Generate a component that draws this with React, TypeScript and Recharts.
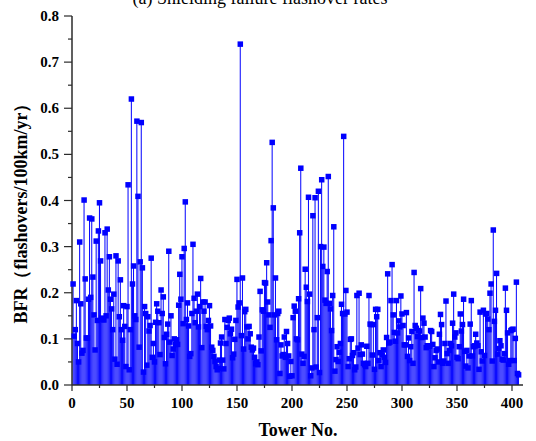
import React from 'react';
import { ComposedChart, Bar, Scatter, XAxis, YAxis, Label } from 'recharts';

// BFR per tower (towers 1..406)
const bfrValues = [
  0.219, 0.106, 0.12, 0.183, 0.09, 0.05, 0.31, 0.176, 0.069, 0.075,
  0.401, 0.23, 0.102, 0.102, 0.186, 0.362, 0.19, 0.36, 0.234, 0.152,
  0.076, 0.312, 0.14, 0.334, 0.395, 0.269, 0.145, 0.142, 0.141, 0.33,
  0.15, 0.338, 0.206, 0.278, 0.186, 0.165, 0.12, 0.197, 0.056, 0.28,
  0.045, 0.269, 0.148, 0.228, 0.12, 0.097, 0.172, 0.127, 0.04, 0.17,
  0.434, 0.033, 0.12, 0.62, 0.219, 0.258, 0.15, 0.142, 0.572, 0.409,
  0.082, 0.267, 0.569, 0.254, 0.028, 0.17, 0.155, 0.043, 0.148, 0.117,
  0.129, 0.275, 0.06, 0.09, 0.05, 0.136, 0.176, 0.16, 0.135, 0.066,
  0.206, 0.155, 0.191, 0.103, 0.046, 0.11, 0.132, 0.29, 0.093, 0.15,
  0.064, 0.078, 0.1, 0.088, 0.098, 0.088, 0.173, 0.24, 0.186, 0.278,
  0.133, 0.296, 0.397, 0.142, 0.178, 0.128, 0.062, 0.068, 0.155, 0.305,
  0.188, 0.135, 0.16, 0.197, 0.126, 0.17, 0.231, 0.081, 0.18, 0.16,
  0.18, 0.127, 0.12, 0.14, 0.172, 0.128, 0.082, 0.075, 0.062, 0.051,
  0.04, 0.033, 0.036, 0.054, 0.091, 0.104, 0.054, 0.035, 0.142, 0.09,
  0.125, 0.14, 0.145, 0.111, 0.121, 0.059, 0.067, 0.099, 0.14, 0.229,
  0.169, 0.178, 0.739, 0.107, 0.232, 0.078, 0.159, 0.164, 0.126, 0.1,
  0.127, 0.111, 0.082, 0.076, 0.08, 0.06, 0.046, 0.05, 0.044, 0.104,
  0.203, 0.074, 0.163, 0.16, 0.222, 0.221, 0.265, 0.18, 0.152, 0.125,
  0.313, 0.526, 0.384, 0.152, 0.232, 0.098, 0.155, 0.16, 0.025, 0.087,
  0.063, 0.066, 0.104, 0.06, 0.116, 0.09, 0.063, 0.019, 0.051, 0.02,
  0.146, 0.171, 0.16, 0.1, 0.098, 0.187, 0.33, 0.47, 0.067, 0.047,
  0.062, 0.251, 0.212, 0.181, 0.407, 0.197, 0.02, 0.037, 0.367, 0.12,
  0.406, 0.039, 0.146, 0.42, 0.027, 0.3, 0.445, 0.257, 0.299, 0.184,
  0.177, 0.246, 0.452, 0.177, 0.165, 0.118, 0.194, 0.343, 0.03, 0.055,
  0.083, 0.051, 0.071, 0.09, 0.175, 0.155, 0.539, 0.154, 0.205, 0.158,
  0.04, 0.057, 0.099, 0.1, 0.064, 0.07, 0.033, 0.039, 0.194, 0.08,
  0.199, 0.066, 0.087, 0.067, 0.047, 0.044, 0.04, 0.084, 0.047, 0.194,
  0.132, 0.131, 0.065, 0.131, 0.034, 0.164, 0.148, 0.164, 0.053, 0.07,
  0.04, 0.065, 0.076, 0.06, 0.049, 0.103, 0.241, 0.091, 0.093, 0.183,
  0.261, 0.152, 0.114, 0.095, 0.183, 0.113, 0.139, 0.126, 0.193, 0.154,
  0.129, 0.087, 0.087, 0.157, 0.062, 0.102, 0.053, 0.083, 0.116, 0.047,
  0.244, 0.129, 0.123, 0.105, 0.118, 0.117, 0.209, 0.103, 0.145, 0.134,
  0.104, 0.081, 0.085, 0.085, 0.084, 0.118, 0.116, 0.088, 0.04, 0.059,
  0.075, 0.078, 0.05, 0.11, 0.153, 0.131, 0.047, 0.052, 0.09, 0.182,
  0.068, 0.047, 0.075, 0.09, 0.085, 0.134, 0.197, 0.104, 0.113, 0.06,
  0.057, 0.083, 0.154, 0.117, 0.131, 0.186, 0.073, 0.041, 0.075, 0.037,
  0.063, 0.132, 0.183, 0.063, 0.083, 0.085, 0.11, 0.091, 0.085, 0.034,
  0.158, 0.072, 0.052, 0.162, 0.064, 0.154, 0.155, 0.143, 0.12, 0.199,
  0.219, 0.052, 0.336, 0.138, 0.162, 0.242, 0.067, 0.079, 0.096, 0.085,
  0.056, 0.054, 0.068, 0.21, 0.162, 0.113, 0.045, 0.053, 0.118, 0.12,
  0.121, 0.053, 0.101, 0.223, 0.025, 0.022,
];

const xTicks = [0, 25, 50, 75, 100, 125, 150, 175, 200, 225, 250, 275, 300, 325, 350, 375, 400];
const yTicks = [0, 0.05, 0.1, 0.15, 0.2, 0.25, 0.3, 0.35, 0.4, 0.45, 0.5, 0.55, 0.6, 0.65, 0.7, 0.75, 0.8];

const title = '(a) Shielding failure flashover rates';
const xTitle = 'Tower No.';
const yTitle = 'BFR（flashovers/100km/yr）';

const data = bfrValues.map((v, i) => ({ tower: i + 1, bfr: v }));

const FONT = "'Times New Roman', 'Liberation Serif', serif";
const AXIS = '#2b2b2b';
const BLUE = '#0000ff';

const XTick = ({ x, y, payload }: any) => {
  const major = payload.value % 50 === 0;
  return (
    <g>
      <line x1={x} x2={x} y1={y} y2={y + (major ? 6 : 3)} stroke={AXIS} strokeWidth={1.2} />
      {major && (
        <text x={x} y={y + 23} textAnchor="middle" fontFamily={FONT} fontWeight="bold" fontSize={15} fill="#000">
          {payload.value}
        </text>
      )}
    </g>
  );
};

const YTick = ({ x, y, payload }: any) => {
  const v = payload.value;
  const major = Math.abs(v * 10 - Math.round(v * 10)) < 1e-6;
  return (
    <g>
      <line x1={x} x2={x - (major ? 8 : 4)} y1={y} y2={y} stroke={AXIS} strokeWidth={1.2} />
      {major && (
        <text x={x - 13} y={y + 5} textAnchor="end" fontFamily={FONT} fontWeight="bold" fontSize={15} fill="#000">
          {v.toFixed(1)}
        </text>
      )}
    </g>
  );
};

const Marker = (props: any) => {
  const { cx, cy } = props;
  if (cx == null || cy == null) return null;
  return <rect x={cx - 2.75} y={cy - 2.75} width={5.5} height={5.5} fill={BLUE} />;
};

export default function App() {
  return (
    <div style={{ position: 'absolute', left: 0, top: 0, width: 536, height: 441, background: '#fff' }}>
      <ComposedChart width={536} height={441} data={data} margin={{ top: 16, right: 13, bottom: 0, left: 0 }}>
        <XAxis
          dataKey="tower"
          type="number"
          domain={[0, 410]}
          ticks={xTicks}
          interval={0}
          tick={<XTick />}
          tickLine={false}
          tickSize={0}
          tickMargin={0}
          axisLine={{ stroke: AXIS, strokeWidth: 1.5 }}
          height={56}
        >
          <Label
            content={() => (
              <g>
                <text x={298} y={436} textAnchor="middle" fontFamily={FONT} fontWeight="bold" fontSize={18} fill="#000">
                  {xTitle}
                </text>
                <text x={260} y={4} textAnchor="middle" fontFamily={FONT} fontSize={18} fill="#000">
                  {title}
                </text>
              </g>
            )}
          />
        </XAxis>
        <YAxis
          type="number"
          domain={[0, 0.8]}
          ticks={yTicks}
          interval={0}
          tick={<YTick />}
          tickLine={false}
          tickSize={0}
          tickMargin={0}
          axisLine={{ stroke: AXIS, strokeWidth: 1.5 }}
          width={72}
        >
          <Label
            content={() => (
              <text
                transform="translate(27,209) rotate(-90)"
                textAnchor="middle"
                fontFamily={FONT}
                fontWeight="bold"
                fontSize={18}
                fill="#000"
              >
                {yTitle}
              </text>
            )}
          />
        </YAxis>
        <Bar dataKey="bfr" barSize={1} fill={BLUE} isAnimationActive={false} />
        <Scatter dataKey="bfr" shape={<Marker />} isAnimationActive={false} />
      </ComposedChart>
    </div>
  );
}
